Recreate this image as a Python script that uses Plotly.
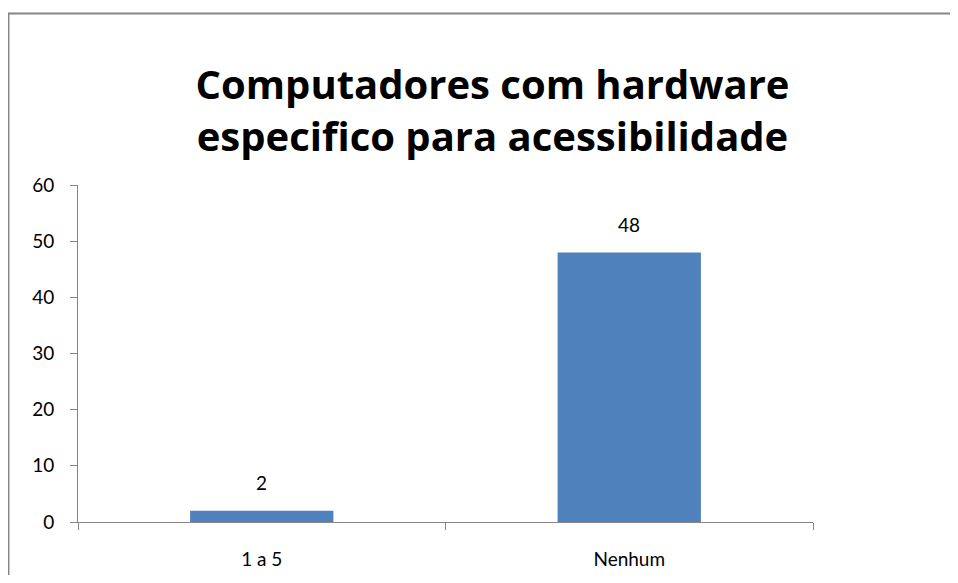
"""Computadores com hardware especifico para acessibilidade -- bar chart."""

import plotly.graph_objects as go

categorias = ["1 a 5", "Nenhum"]
valores = [2, 48]

BAR_COLOR = "#4F81BD"
AXIS_COLOR = "#868686"
FONT = "Lato, Calibri, 'Open Sans', sans-serif"
TITLE_FONT = "'Open Sans', Calibri, sans-serif"

fig = go.Figure(go.Bar(
    x=categorias,
    y=valores,
    marker=dict(color=BAR_COLOR, line=dict(width=0)),
    cliponaxis=False,
))

# data labels above the bars
for cat, val in zip(categorias, valores):
    fig.add_annotation(
        x=cat, y=val, text=str(val),
        showarrow=False, yanchor="middle", yshift=28,
        font=dict(size=19, family=FONT, color="#000000"),
    )

fig.update_layout(
    width=950,
    height=567,
    margin=dict(l=70, r=145, t=177, b=53),
    paper_bgcolor="white",
    plot_bgcolor="white",
    font=dict(family=FONT, size=19, color="#000000"),
    title=dict(
        text="<b>Computadores com hardware<br>especifico para acessibilidade</b>",
        x=0.51,
        xanchor="center",
        xref="container",
        yref="container",
        y=0.84,
        yanchor="top",
        font=dict(size=40, family=TITLE_FONT, color="#000000"),
    ),
    bargap=0.61,
    showlegend=False,
    xaxis=dict(
        showline=True,
        linecolor=AXIS_COLOR,
        linewidth=1,
        ticks="outside",
        tickson="boundaries",
        ticklen=7,
        tickcolor=AXIS_COLOR,
        showgrid=False,
        ticklabelstandoff=20,
        automargin=False,
    ),
    yaxis=dict(
        range=[0, 60],
        dtick=10,
        showline=True,
        linecolor=AXIS_COLOR,
        linewidth=1,
        ticks="outside",
        ticklen=7,
        tickcolor=AXIS_COLOR,
        showgrid=False,
        zeroline=False,
        ticklabelstandoff=12,
        automargin=False,
    ),
    shapes=[dict(
        type="rect",
        xref="paper", yref="paper",
        x0=-0.0946, x1=1.4, y0=-0.4, y1=1.509,
        line=dict(color=AXIS_COLOR, width=2),
        fillcolor="rgba(0,0,0,0)",
        layer="above",
    )],
)

fig.write_html("out.html")
